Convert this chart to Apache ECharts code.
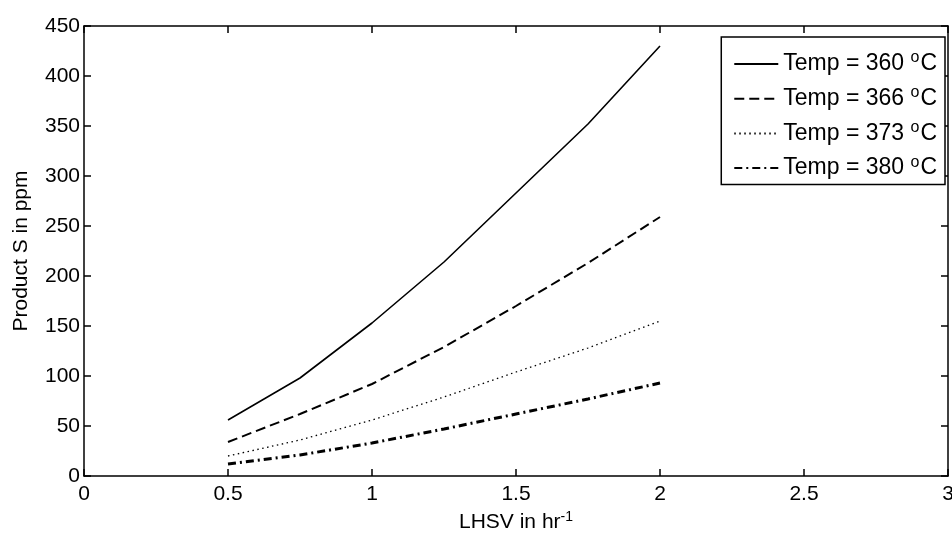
<!DOCTYPE html>
<html>
<head>
<meta charset="utf-8">
<script src="https://cdn.jsdelivr.net/npm/echarts@6/dist/echarts.min.js"></script>
<style>
  html, body { margin: 0; padding: 0; background: #fff; }
  #main { width: 952px; height: 538px; }
</style>
</head>
<body>
<div id="main"></div>
<script>
// LHSV values (hr^-1) where the curves were read
var lhsv = [0.5, 0.75, 1, 1.25, 1.5, 1.75, 2];
// product S (ppm) for each temperature
var temp360 = [56, 98, 153, 214, 283, 352, 430];
var temp366 = [34, 62, 92, 129, 170, 213, 259];
var temp373 = [20, 36, 56, 79, 104, 128, 155];
var temp380 = [12, 21, 33, 47, 62, 77, 93];
var seriesNames = ['Temp = 360', 'Temp = 366', 'Temp = 373', 'Temp = 380'];

function pairs(ys) {
  return lhsv.map(function (x, i) { return [x, ys[i]]; });
}

var font = '"Liberation Sans", Arial, sans-serif';
var black = '#000';

// box style axis: ticks pointing inwards on all four sides
function boxAxis(extra) {
  var base = {
    type: 'value',
    axisLine: { show: true, onZero: false, lineStyle: { color: black, width: 1.5 } },
    axisTick: { show: true, inside: true, length: 7, lineStyle: { color: black, width: 1.5 } },
    splitLine: { show: false }
  };
  for (var k in extra) base[k] = extra[k];
  return base;
}

var chart = echarts.init(document.getElementById('main'));

var option = {
  backgroundColor: '#fff',
  animation: false,
  grid: { left: 84, right: 4, top: 26, bottom: 62, outerBoundsMode: 'none', containLabel: false },
  legend: {
    orient: 'vertical',
    right: 7,
    top: 37,
    data: seriesNames,
    itemWidth: 44,
    itemHeight: 14,
    itemGap: 9.2,
    padding: [13, 8, 5, 12],
    borderColor: black,
    borderWidth: 1.5,
    backgroundColor: '#fff',
    itemStyle: { color: 'rgba(0,0,0,0)', borderWidth: 0, opacity: 0 },
    formatter: function (name) {
      return name + ' {sup|o}C';
    },
    textStyle: {
      fontFamily: font,
      fontSize: 23,
      color: black,
      rich: {
        sup: { fontFamily: font, fontSize: 16, color: black, padding: [0, 1, 12, 0] }
      }
    }
  },
  xAxis: [boxAxis({
    min: 0, max: 3, interval: 0.5,
    name: 'LHSV in hr{sup|-1}',
    nameLocation: 'middle',
    nameGap: 34,
    nameTextStyle: {
      fontFamily: font, fontSize: 21, color: black,
      rich: { sup: { fontFamily: font, fontSize: 14, color: black, padding: [0, 0, 11, 0] } }
    },
    axisLabel: { fontFamily: font, fontSize: 21, color: black, margin: 8 }
  }), boxAxis({
    position: 'top',
    min: 0, max: 3, interval: 0.5,
    axisLabel: { show: false }
  })],
  yAxis: [boxAxis({
    min: 0, max: 450, interval: 50,
    name: 'Product S in ppm',
    nameLocation: 'middle',
    nameGap: 52,
    nameTextStyle: { fontFamily: font, fontSize: 21, color: black },
    axisLabel: { fontFamily: font, fontSize: 21, color: black, margin: 4 }
  }), boxAxis({
    position: 'right',
    min: 0, max: 450, interval: 50,
    axisLabel: { show: false }
  })],
  series: [{
    name: seriesNames[0],
    type: 'line',
    data: pairs(temp360),
    symbol: 'none',
    lineStyle: { color: black, width: 1.6, type: 'solid' },
    itemStyle: { color: black }
  }, {
    name: seriesNames[1],
    type: 'line',
    data: pairs(temp366),
    symbol: 'none',
    lineStyle: { color: black, width: 2, type: [10, 5] },
    itemStyle: { color: black }
  }, {
    name: seriesNames[2],
    type: 'line',
    data: pairs(temp373),
    symbol: 'none',
    lineStyle: { color: black, width: 1.3, type: [1.5, 3.5] },
    itemStyle: { color: black }
  }, {
    name: seriesNames[3],
    type: 'line',
    data: pairs(temp380),
    symbol: 'none',
    lineStyle: { color: black, width: 3, type: [8, 4, 2, 4] },
    itemStyle: { color: black }
  }]
};

chart.setOption(option);
window.onresize = chart.resize;
</script>
</body>
</html>
